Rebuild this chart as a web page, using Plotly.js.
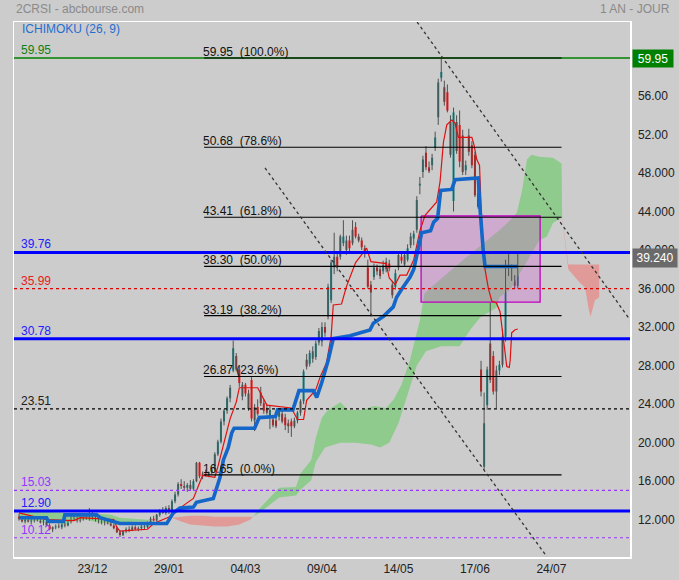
<!DOCTYPE html>
<html><head><meta charset="utf-8">
<script src="https://cdn.plot.ly/plotly-3.0.1.min.js"></script>
<style>html,body{margin:0;padding:0;background:#cccccc;}#chart{width:679px;height:580px;}</style>
</head><body><div id="chart"></div>
<script>
// ---- price data (bar index = trading session) ----
const openP = [12.3,12.1,11.8,12.0,11.8,11.9,12.1,11.9,11.7,11.8,11.4,11.0,11.2,11.3,11.2,11.5,11.4,11.8,12.2,12.0,11.9,12.1,12.3,12.1,12.4,12.1,11.9,11.8,11.7,11.8,11.6,11.4,11.1,10.7,10.4,10.8,11.0,10.9,11.2,11.0,11.1,11.3,11.2,11.7,12.1,11.9,12.5,12.9,12.7,13.2,12.8,13.9,14.6,15.7,15.5,15.3,15.6,15.2,16.0,17.9,16.5,16.8,16.6,16.9,17.2,18.8,20.1,22.2,23.3,24.6,27.5,29.0,27.6,24.8,26.0,25.1,26.5,22.3,23.7,25.2,24.1,23.5,22.6,22.4,22.3,22.7,23.0,22.6,22.0,22.2,21.7,22.3,23.1,24.3,28.6,28.2,28.7,28.9,30.4,30.5,32.0,33.1,34.8,38.2,39.3,39.3,40.7,40.0,41.0,40.7,42.4,41.4,41.0,40.2,38.2,36.4,37.2,38.2,38.0,37.8,38.0,38.6,36.4,36.2,38.2,39.3,38.5,39.0,40.5,41.2,42.1,46.7,48.1,50.1,48.6,48.8,50.6,53.8,57.9,56.9,56.4,53.3,45.1,53.3,53.0,51.9,48.3,51.9,50.9,49.9,45.9,27.6,17.5,23.9,30.3,29.0,25.3,27.5,28.1,31.0,39.0,37.6,37.0,36.3];
const highP = [12.6,12.4,12.2,12.3,12.1,12.2,12.3,12.2,12.0,12.0,11.6,11.3,11.5,11.6,11.6,11.8,11.9,12.4,12.5,12.3,12.3,12.5,12.6,13.2,12.9,12.4,12.2,12.1,12.0,12.0,11.9,11.6,11.3,10.9,10.9,11.2,11.3,11.4,11.4,11.3,11.5,11.6,11.8,12.3,12.4,12.6,13.1,13.3,13.4,13.5,14.1,14.9,15.9,16.2,16.0,15.8,16.1,16.2,18.0,18.0,17.0,17.2,17.0,17.5,19.0,20.3,22.5,23.5,24.8,26.0,30.6,29.3,28.0,26.3,26.2,25.5,26.8,24.0,24.5,25.8,24.5,24.0,23.8,22.9,22.6,23.6,23.3,23.0,22.4,22.5,22.6,23.3,24.5,27.6,29.2,29.6,30.0,30.6,31.9,32.5,32.5,36.5,39.0,41.8,39.8,41.6,43.1,41.5,41.5,43.1,42.9,41.7,41.3,40.5,39.0,36.8,38.6,38.5,38.3,38.9,39.2,39.0,36.8,38.0,39.8,39.7,39.9,40.6,41.8,42.0,45.6,47.6,49.8,50.8,49.2,50.0,52.3,57.8,59.95,57.6,57.2,54.0,54.8,54.0,54.5,52.5,49.3,52.6,51.3,50.2,46.6,28.5,25.2,27.9,34.5,29.5,28.0,28.5,31.8,39.0,39.8,38.5,37.4,39.8];
const lowP = [11.9,11.7,11.6,11.7,11.5,11.7,11.8,11.6,11.4,11.3,10.9,10.7,11.0,11.1,11.0,11.2,11.3,11.6,11.9,11.7,11.7,11.9,12.0,11.9,12.0,11.8,11.6,11.5,11.4,11.5,11.3,11.0,10.6,10.2,10.3,10.6,10.7,10.8,10.9,10.8,10.9,11.0,11.1,11.5,11.8,11.8,12.3,12.6,12.5,12.6,12.7,13.7,14.4,15.2,15.1,14.9,15.0,15.0,15.9,16.3,16.2,16.5,16.4,16.7,17.0,18.6,19.9,21.8,23.0,24.2,27.3,27.4,25.8,24.4,24.8,23.3,22.2,21.2,22.8,23.8,23.0,22.9,21.4,21.6,21.5,22.3,22.0,21.3,21.0,20.6,21.5,22.0,22.8,24.0,27.6,27.9,28.3,28.6,30.1,30.0,31.0,32.8,34.5,37.5,37.8,39.0,40.4,39.5,39.8,40.5,41.2,40.8,40.0,39.2,36.0,33.1,36.9,37.4,37.0,37.5,37.7,37.8,35.0,35.9,37.9,38.6,38.3,38.8,40.2,40.5,41.8,45.8,47.5,48.3,48.0,48.3,50.3,53.0,57.5,55.0,54.3,49.6,44.0,50.0,48.6,47.8,47.8,49.8,48.5,45.5,44.3,24.8,17.2,23.4,26.2,25.0,23.6,27.0,27.8,30.5,37.3,36.8,36.0,36.0];
const closeP = [12.1,11.8,12.0,11.8,11.9,12.1,11.9,11.7,11.8,11.4,11.0,11.2,11.3,11.2,11.5,11.4,11.8,12.2,12.0,11.9,12.1,12.3,12.1,12.4,12.1,11.9,11.8,11.7,11.8,11.6,11.4,11.1,10.7,10.4,10.8,11.0,10.9,11.2,11.0,11.1,11.3,11.2,11.7,12.1,11.9,12.5,12.9,12.7,13.2,12.8,13.9,14.6,15.7,15.5,15.3,15.6,15.2,16.0,17.9,16.5,16.8,16.6,16.9,17.2,18.8,20.1,22.2,23.3,24.6,25.7,29.8,27.6,26.2,26.0,25.1,23.5,22.5,23.7,23.0,24.1,23.3,23.1,23.4,21.8,21.7,23.4,22.2,21.8,21.7,21.7,22.3,23.1,24.3,27.4,27.9,29.3,29.5,30.3,31.6,32.0,31.4,36.2,38.7,39.3,38.3,41.4,41.4,41.0,40.2,42.1,41.4,41.0,40.3,39.6,36.2,35.6,38.2,37.8,37.3,38.4,38.8,38.1,35.3,37.6,39.5,38.9,39.5,40.2,41.4,41.7,45.2,46.9,49.4,48.6,48.2,49.6,51.7,57.4,58.5,55.4,54.5,49.9,54.3,50.3,49.2,48.1,48.8,50.2,48.8,45.7,44.5,25.3,22.0,27.6,26.5,25.3,27.5,28.1,31.0,38.7,38.5,37.0,36.3,39.24];

// ---- Ichimoku lines (bar index, price) ----
const tenkanX = [0,5,9,18,20,31,32,33,42,44,50,53,57,59,60,64,65,67,69,71,72,78,81,89,91,93,94,97,98.4,100.5,102,102.7,105.4,107,110,113.6,115,120,121,122.9,124.5,126.7,129,131,132.7,136.5,137.6,138.7,139.8,141.4,142.5,143.6,148,148.7,149.6,150.5,151,151.5,152.3,153.4,154.5,156,157.2,158.3,159.4,160.2,160.5,161,162,163];
const tenkanY = [12.7,12.3,12.0,11.9,12.2,12.0,11.2,10.8,11.0,11.6,12.4,13.3,14.2,15.8,16.6,16.4,17.5,20.0,22.5,24.2,25.7,25.7,23.9,23.6,22.4,22.4,24.4,25.5,26.8,28.3,31.0,34.3,34.4,36.2,38.7,40.2,38.8,38.6,37.1,36.4,37.4,37.4,39.0,42.0,43.6,45.0,47.1,51.2,53.0,53.5,53.2,51.7,51.7,50.9,49.4,48.8,44.0,40.3,38.0,36.0,34.7,34.5,33.6,30.7,27.9,27.8,28.5,31.4,31.7,31.8];
const kijunX = [0,9,9.6,14.5,15,25.4,26.5,33,48.3,50.4,52.6,57,58,63.5,65.7,66.8,68.4,69.5,70.3,77,78.5,83.8,84.5,89.5,91.5,96.2,97.3,98.9,101,102.7,108.2,114.7,115.8,119,122.3,123.4,125,127.8,129,130.5,131.6,134.5,135.5,136.8,137.3,137.8,141.4,142.5,150.1,150.5,151.7,152.3,163];
const kijunY = [12.2,12.2,11.8,11.8,12.5,12.5,12.2,11.6,11.6,12.7,13.2,13.3,13.8,14.2,16.4,18.2,19.5,21.0,21.5,21.5,22.6,22.7,23.4,23.4,25.4,25.4,24.7,26.2,28.5,30.8,31.1,31.7,32.4,33.1,34.1,35.1,35.9,37.2,38.0,40.0,41.8,42.0,42.9,43.3,44.5,46.2,46.3,47.3,47.5,45.0,40.0,38.3,38.3];

// ---- Kumo (cloud) boundaries ----
const green1X = [0,10,15,18,22,26,30,33,38,42,44];
const green1Up = [12.8,12.8,12.7,12.6,12.4,12.6,12.5,12.2,12.1,12.0,11.9];
const green1Low = [12.0,11.8,11.5,11.9,12.0,11.7,11.6,11.7,11.8,11.8,11.9];
const red1X = [50,53,56,60,64,68,72,75.5,76.5];
const red1Up = [12.2,12.3,12.4,12.4,12.3,12.3,12.3,12.3,12.3];
const red1Low = [12.2,11.8,11.5,11.4,11.3,11.3,11.5,12.0,12.3];
const green2UpX = [76.5,79,85,90.5,92,95.5,97,99,101,105,107.5,112,116,120,122.5,125,127.8,131,132.5,136,146.4,157.2,160.5,162.7,164.4,166,167.5,170,174.5,177.3,177.5];
const green2UpY = [12.3,13.3,15.3,15.4,16.8,18.2,20.5,22.6,23.4,24.2,23.4,23.4,23.8,23.6,24.5,26.0,28.6,32.7,35.5,36.5,39.3,42.1,43.1,43.9,46.2,49.4,49.9,49.7,49.6,49.0,43.4];
const green2LowX = [76.5,79,85,90.5,92,95.5,97,100,105,110,115,118,121,124,127,130,133,138,144,147.4,150.7,156,157,160.5,163.7,170,172.5,174.5,177.5];
const green2LowY = [12.3,12.8,14.3,14.5,15.1,16.1,18.0,19.5,20.0,20.0,19.8,19.5,20.0,22.0,25.0,28.0,29.5,30.0,30.0,31.7,33.0,34.0,35.1,35.9,37.6,41.0,41.4,42.8,43.4];
const red2UpX = [177.5,179.5,189.6];
const red2UpY = [43.4,38.5,38.5];
const red2LowX = [177.5,179.5,181,183.3,185,186.2,186.8,188.2,189.6];
const red2LowY = [43.3,38.0,37.5,36.6,36.1,33.8,33.1,34.8,35.1];

// ---- drawings ----
const levelValues = [59.95, 39.76, 35.99, 30.78, 23.51, 15.03, 12.90, 10.12];
const levelLabels = ['59.95','39.76','35.99','30.78','23.51','15.03','12.90','10.12'];
const fibValues = [59.95, 50.68, 43.41, 38.30, 33.19, 26.87, 16.65];
const fibPct = ['100.0%','78.6%','61.8%','50.0%','38.2%','23.6%','0.0%'];
const fibSpan = [60.5, 177.3];
const zoneX = [131.4, 170.3];
const zoneY = [34.6, 43.54];
const trend1X = [130.1, 199.7], trend1Y = [63.69, 32.74];
const trend2X = [80.4, 172.5], trend2Y = [48.53, 8.15];
const lastPrice = 39.24;

const tickDates = ['23/12','29/01','04/03','09/04','14/05','17/06','24/07'];
const tickIdx = [24,49,74,99,124,149,174];
const yTicks = [12,16,20,24,28,32,36,40,44,48,52,56];
const yTickText = ['12.000','16.000','20.000','24.000','28.000','32.000','36.000','40.000','44.000','48.000','52.00','56.00'];

// ---- build ----
const idx = openP.map((_, i) => i);
function poly(upX, upY, lowX, lowY) {
  return { x: upX.concat(lowX.slice().reverse(), [upX[0]]), y: upY.concat(lowY.slice().reverse(), [upY[0]]) };
}
const GREEN = '#8fcb8d', RED = '#e09a98';
function cloudTrace(p, color) {
  return { type: 'scatter', mode: 'lines', x: p.x, y: p.y, fill: 'toself', fillcolor: color, line: { width: 0, color: color }, hoverinfo: 'skip', showlegend: false };
}
const wickX = [], wickY = [];
idx.forEach(i => { wickX.push(i, i, null); wickY.push(lowP[i], highP[i], null); });

const traces = [
  cloudTrace(poly(green1X, green1Up, green1X, green1Low), GREEN),
  cloudTrace(poly(red1X, red1Up, red1X, red1Low), RED),
  cloudTrace(poly(green2UpX, green2UpY, green2LowX, green2LowY), GREEN),
  cloudTrace(poly(red2UpX, red2UpY, red2LowX, red2LowY), RED),
  { type: 'scatter', mode: 'lines', x: [zoneX[0], zoneX[1], zoneX[1], zoneX[0], zoneX[0]], y: [zoneY[1], zoneY[1], zoneY[0], zoneY[0], zoneY[1]],
    fill: 'toself', fillcolor: 'rgba(210,107,210,0.35)', line: { color: '#c000c0', width: 1.3 }, hoverinfo: 'skip', showlegend: false },
  { type: 'scatter', mode: 'lines', x: wickX, y: wickY, line: { color: '#505050', width: 1 }, hoverinfo: 'skip', showlegend: false },
  { type: 'candlestick', x: idx, open: openP, high: highP, low: lowP, close: closeP,
    increasing: { line: { color: '#1a7f80', width: 0 }, fillcolor: '#1a7f80' },
    decreasing: { line: { color: '#e81010', width: 0 }, fillcolor: '#e81010' },
    whiskerwidth: 0, hoverinfo: 'skip', showlegend: false },
  { type: 'scatter', mode: 'lines', x: tenkanX, y: tenkanY, line: { color: '#e01010', width: 1.2 }, hoverinfo: 'skip', showlegend: false },
  { type: 'scatter', mode: 'lines', x: kijunX, y: kijunY, line: { color: '#1466c8', width: 3.6 }, hoverinfo: 'skip', showlegend: false }
];

const levelStyle = [
  { color: '#008000', width: 1.5, dash: 'solid', text: '#108010' },
  { color: '#0000ff', width: 3, dash: 'solid', text: '#2020ff' },
  { color: '#e00000', width: 1.2, dash: 'dot', text: '#e82020' },
  { color: '#0000ff', width: 3, dash: 'solid', text: '#2020ff' },
  { color: '#000000', width: 1.2, dash: 'dot', text: '#202020' },
  { color: '#9933ff', width: 1.2, dash: 'dot', text: '#9933ff' },
  { color: '#0000ff', width: 3, dash: 'solid', text: '#2020ff' },
  { color: '#9933ff', width: 1.2, dash: 'dot', text: '#9933ff' }
];
const shapes = [];
const annotations = [];
const FONT = 'Liberation Sans, Arial, sans-serif';
levelValues.forEach((v, k) => {
  const s = levelStyle[k];
  shapes.push({ type: 'line', xref: 'paper', x0: 0, x1: 1, yref: 'y', y0: v, y1: v, line: { color: s.color, width: s.width, dash: s.dash } });
  annotations.push({ xref: 'paper', x: 0.008, xanchor: 'left', yref: 'y', y: v, yanchor: 'bottom', yshift: -1, text: levelLabels[k], showarrow: false, font: { family: FONT, size: 12, color: s.text } });
});
fibValues.forEach((v, k) => {
  shapes.push({ type: 'line', xref: 'x', x0: fibSpan[0], x1: fibSpan[1], yref: 'y', y0: v, y1: v, line: { color: '#000', width: 1.2 } });
  const sep = k === 5 ? ' ' : '\u00a0 ';
  annotations.push({ xref: 'x', x: fibSpan[0], xanchor: 'left', yref: 'y', y: v, yanchor: 'bottom', yshift: -3, xshift: -3, text: v.toFixed(2) + sep + '(' + fibPct[k] + ')', showarrow: false, font: { family: FONT, size: 12, color: '#111' } });
});
shapes.push({ type: 'line', xref: 'x', yref: 'y', x0: trend1X[0], x1: trend1X[1], y0: trend1Y[0], y1: trend1Y[1], line: { color: '#333', width: 1.3, dash: 'dot' } });
shapes.push({ type: 'line', xref: 'x', yref: 'y', x0: trend2X[0], x1: trend2X[1], y0: trend2Y[0], y1: trend2Y[1], line: { color: '#333', width: 1.3, dash: 'dot' } });

annotations.push({ xref: 'paper', x: 1.003, xanchor: 'left', yref: 'y', y: levelValues[0], yanchor: 'middle', text: levelLabels[0], showarrow: false, bgcolor: '#008000', width: 38, height: 15, font: { family: FONT, size: 12, color: '#fff' } });
annotations.push({ xref: 'paper', x: 1.003, xanchor: 'left', yref: 'y', y: lastPrice, yanchor: 'middle', yshift: -1, text: lastPrice.toFixed(3), showarrow: false, bgcolor: '#6a6a6a', width: 42, height: 16, font: { family: FONT, size: 12, color: '#fff' } });
annotations.push({ xref: 'paper', x: 0, xanchor: 'left', yref: 'paper', y: 1.024, yanchor: 'middle', text: '2CRSI - abcbourse.com', showarrow: false, font: { family: FONT, size: 12, color: '#8a8a8a' } });
annotations.push({ xref: 'paper', x: 1.068, xanchor: 'right', yref: 'paper', y: 1.024, yanchor: 'middle', text: '1 AN - JOUR', showarrow: false, font: { family: FONT, size: 12, color: '#8a8a8a' } });
annotations.push({ xref: 'paper', x: 0.009, xanchor: 'left', yref: 'paper', y: 0.987, yanchor: 'middle', text: 'ICHIMOKU (26, 9)', showarrow: false, font: { family: FONT, size: 12, color: '#1f6fd1' } });

const layout = {
  width: 679, height: 580,
  margin: { l: 14, r: 49, t: 22, b: 23 },
  paper_bgcolor: '#cccccc', plot_bgcolor: '#cccccc',
  showlegend: false, boxgap: 0.05,
  font: { family: FONT, size: 12, color: '#222' },
  xaxis: { range: [-1.63, 199.67], tickvals: tickIdx, ticktext: tickDates, showgrid: false, zeroline: false,
    showline: true, mirror: true, linecolor: '#ffffff', linewidth: 1.5, ticks: '', rangeslider: { visible: false },
    tickfont: { family: FONT, size: 12, color: '#222' } },
  yaxis: { side: 'right', range: [8.12, 63.69], tickvals: yTicks, ticktext: yTickText, showgrid: false, zeroline: false,
    showline: true, mirror: true, linecolor: '#ffffff', linewidth: 1.5, ticks: 'outside', ticklen: 4, tickcolor: 'rgba(0,0,0,0)',
    tickfont: { family: FONT, size: 12, color: '#222' } },
  shapes: shapes, annotations: annotations
};
Plotly.newPlot('chart', traces, layout, { staticPlot: true, displayModeBar: false });
</script></body></html>
